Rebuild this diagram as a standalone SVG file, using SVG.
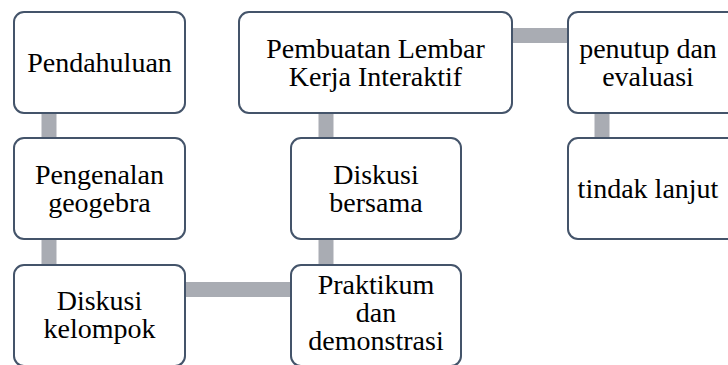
<svg xmlns="http://www.w3.org/2000/svg" width="728" height="365" viewBox="0 0 728 365">
<style>
.node rect{fill:#ffffff;stroke:#44546A;stroke-width:2}
.node text{font-family:"Liberation Serif","Times New Roman",serif;font-size:28px;fill:#000000;text-anchor:middle}
.conn rect{fill:#A9ACB3}
</style>
<rect width="728" height="365" fill="#ffffff"/>
<g id="connectors" class="conn">
<rect x="41.5" y="110" width="15" height="30"/>
<rect x="41.5" y="236" width="15" height="32"/>
<rect x="182" y="282" width="112" height="15"/>
<rect x="318.5" y="236" width="15" height="32"/>
<rect x="318.5" y="110" width="15" height="30"/>
<rect x="509" y="28" width="62" height="15"/>
<rect x="594.5" y="110" width="15" height="30"/>
</g>
<g id="n1" class="node"><rect x="14" y="12" width="171" height="101" rx="10"/><text x="99.5" y="71.5">Pendahuluan</text></g>
<g id="n2" class="node"><rect x="14" y="138" width="171" height="101" rx="10"/><text x="99.5" y="183.5">Pengenalan</text><text x="99.5" y="211.5">geogebra</text></g>
<g id="n3" class="node"><rect x="14" y="265" width="171" height="101" rx="10"/><text x="99.5" y="310">Diskusi</text><text x="99.5" y="338">kelompok</text></g>
<g id="n4" class="node"><rect x="291" y="265" width="170" height="101" rx="10"/><text x="376" y="294">Praktikum</text><text x="376" y="322">dan</text><text x="376" y="350">demonstrasi</text></g>
<g id="n5" class="node"><rect x="291" y="138" width="170" height="101" rx="10"/><text x="376" y="183.5">Diskusi</text><text x="376" y="211.5">bersama</text></g>
<g id="n6" class="node"><rect x="239" y="12" width="273" height="101" rx="10"/><text x="375.5" y="57.5">Pembuatan Lembar</text><text x="375.5" y="85.5">Kerja Interaktif</text></g>
<g id="n7" class="node"><rect x="568" y="12" width="171" height="101" rx="10"/><text x="648" y="57.5">penutup dan</text><text x="648" y="85.5">evaluasi</text></g>
<g id="n8" class="node"><rect x="568" y="138" width="171" height="101" rx="10"/><text x="648" y="197.5">tindak lanjut</text></g>
</svg>
